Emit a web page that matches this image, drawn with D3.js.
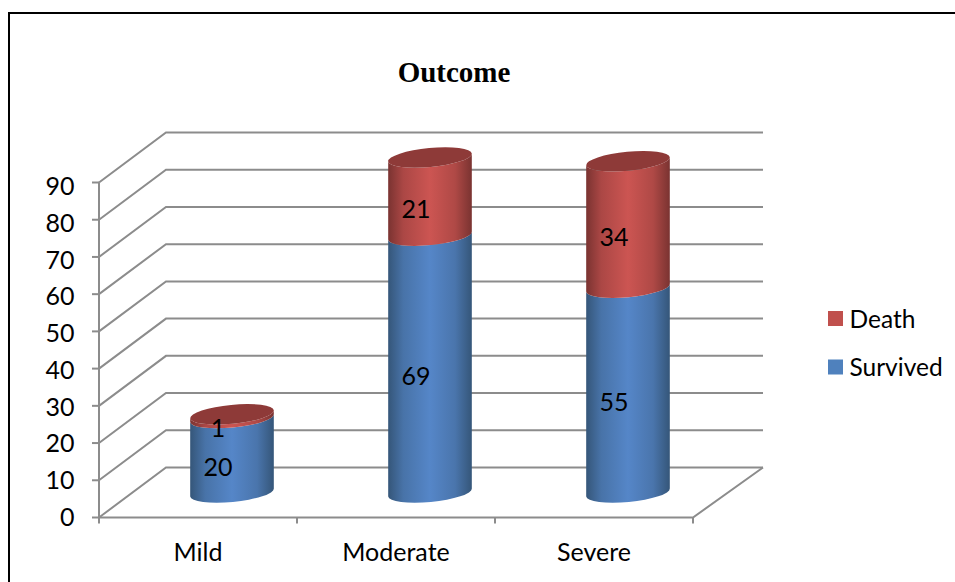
<!DOCTYPE html>
<html><head><meta charset="utf-8">
<style>html,body{margin:0;padding:0;background:#fff}svg{display:block}text{font-family:Lato,"Open Sans",sans-serif;fill:#000}</style>
<script src="https://cdn.jsdelivr.net/npm/d3@7/dist/d3.min.js"></script>
</head><body><svg id="c" width="955" height="582"></svg>
<script>
const categories = ["Mild","Moderate","Severe"];
const survived = [20,69,55];
const death = [1,21,34];
const yTicks = [0,10,20,30,40,50,60,70,80,90];
const seriesNames = ["Death","Survived"];
const colors = {Death:"#c0504d",Survived:"#4f81bd"};

const W=955,H=582;
const svg=d3.select("#c");
const x=d3.scaleBand().domain(categories).range([99,693]);
const y=d3.scaleLinear().domain([0,90]).range([517.5,182.5]);
const labelY=d3.scaleLinear().domain([0,90]).range([526,195]);
const dxL=67,dxR=70,dy=-50;    // 3-D depth of the plot box
const rx=42,ry=9.5,tilt=-5.5;  // cylinder cap ellipse
const t=tilt*Math.PI/180;
const grid="#8c8c8c";

// outer frame
svg.append("path").attr("d",`M9,${H} V13 H${W}`).attr("fill","none").attr("stroke","#000").attr("stroke-width",2);

// title
svg.append("text").attr("x",454).attr("y",82).attr("text-anchor","middle")
  .style("font-family","'Liberation Serif',serif").style("font-weight","700").style("font-size","29px").text("Outcome");

// gradients
const defs=svg.append("defs");
function grad(id,edge,mid){
  const g=defs.append("linearGradient").attr("id",id);
  [[0,edge],[.18,d3.interpolateRgb(edge,mid)(.6)],[.5,mid],[.8,d3.interpolateRgb(edge,mid)(.65)],[1,edge]]
    .forEach(s=>g.append("stop").attr("offset",s[0]).attr("stop-color",s[1]));
}
grad("gB","#355679","#5586c8");
grad("gR","#7a3331","#cc5552");

// gridlines: back wall + side wall
const [x0,x1]=x.range();
const gg=svg.append("g").attr("fill","none").attr("stroke",grid).attr("stroke-width",2);
yTicks.forEach(v=>{
  const Y=y(v);
  gg.append("path").attr("d",`M${x0},${Y} L${x0+dxL},${Y+dy} H${x1+dxR}`);
});
// floor and axes
gg.append("path").attr("d",`M${x0},${y(0)} H${x1} L${x1+dxR},${y(0)+dy}`);
gg.append("path").attr("d",`M${x0},${y(90)} V${y(0)}`);
yTicks.forEach(v=>gg.append("path").attr("d",`M${x0-7},${y(v)} H${x0}`));
[...categories.map(c=>x(c)),x1].forEach(X=>gg.append("path").attr("d",`M${X},${y(0)} V${y(0)+6}`));

// axis labels
const fs="25px";
yTicks.forEach(v=>svg.append("text").attr("x",74.5).attr("y",labelY(v)).attr("text-anchor","end").style("font-size",fs).text(v));
categories.forEach(c=>svg.append("text").attr("x",x(c)+x.bandwidth()/2).attr("y",561).attr("text-anchor","middle").style("font-size",fs).text(c));

// cylinders
const ex=rx*Math.cos(t),ey=rx*Math.sin(t);
function cyl(cx,yBase,yTop){
  const L=[cx-ex,yBase-ey],R=[cx+ex,yBase+ey],L2=[cx-ex,yTop-ey],R2=[cx+ex,yTop+ey];
  return `M${L2} A${rx},${ry} ${tilt} 0 0 ${R2} L${R} A${rx},${ry} ${tilt} 0 1 ${L} Z`;
}
const y0base=y(0)+dy/2;
const h=v=>y(0)-y(v);
categories.forEach((c,i)=>{
  const cx=x(c)+x.bandwidth()/2+34;
  const a=y0base,b=a-h(survived[i]),d=b-h(death[i]);
  svg.append("path").attr("d",cyl(cx,a,b)).attr("fill","url(#gB)");
  svg.append("path").attr("d",cyl(cx,b,d)).attr("fill","url(#gR)");
  svg.append("ellipse").attr("cx",cx).attr("cy",d).attr("rx",rx).attr("ry",ry)
    .attr("transform",`rotate(${tilt} ${cx} ${d})`).attr("fill","#8e3a38");
  const lab=(v,m)=>svg.append("text").attr("x",cx-14).attr("y",m+21).attr("text-anchor","middle").style("font-size",fs).text(v);
  lab(survived[i],(a+b)/2);
  lab(death[i],(b+d)/2);
});

// legend
seriesNames.forEach((n,i)=>{
  const ly=318.5+i*48.5;
  svg.append("rect").attr("x",828).attr("y",ly-7.5).attr("width",15).attr("height",15).attr("fill",colors[n]);
  svg.append("text").attr("x",849.5).attr("y",ly+9).style("font-size","24.5px").text(n);
});
</script></body></html>
